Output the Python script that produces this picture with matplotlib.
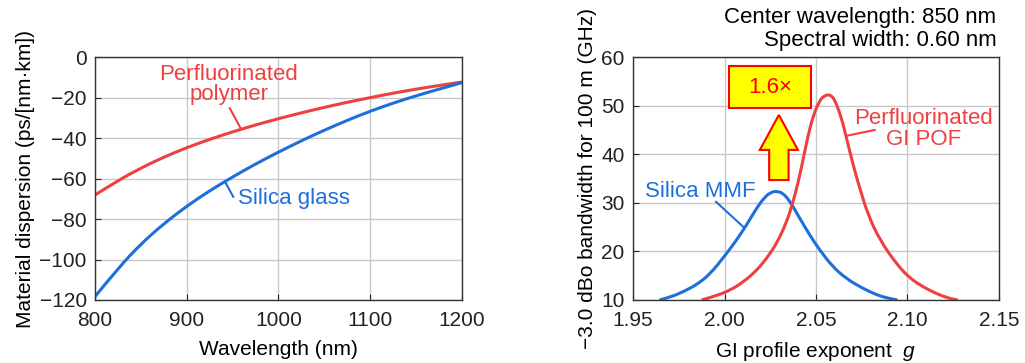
import matplotlib
matplotlib.use('Agg')
from matplotlib import pyplot as plt
from matplotlib.patches import Rectangle, Polygon, PathPatch
from matplotlib.path import Path

# 数据: 材料色散 (左图)
wavelength = [800, 825, 850, 875, 900, 925, 950, 975, 1000,
              1025, 1050, 1075, 1100, 1125, 1150, 1175, 1200]
disp_polymer = [-68.1, -61.0, -54.8, -49.4, -44.7, -40.6, -36.9, -33.5, -30.4,
                -27.5, -24.8, -22.3, -20.0, -17.8, -15.8, -14.0, -12.3]
disp_silica = [-118.3, -104.4, -92.3, -82.3, -73.6, -66.0, -59.2, -52.8, -46.9,
               -41.3, -36.1, -31.2, -26.7, -22.7, -19.1, -15.8, -12.6]

# 数据: 带宽 vs 折射率分布指数 (右图)
g_mmf = [1.9645, 1.9705, 1.9775, 1.985, 1.992, 2.000, 2.0065, 2.012, 2.0175, 2.022,
         2.0255, 2.0285, 2.032, 2.0358, 2.041, 2.0465, 2.052, 2.059, 2.0665, 2.0755,
         2.0835, 2.089, 2.0945]
bw_mmf = [10.0, 10.6, 11.7, 13.2, 15.3, 19.0, 22.3, 25.4, 28.9, 31.2,
          32.2, 32.4, 32.0, 30.3, 26.9, 23.4, 20.3, 16.9, 14.4, 12.4,
          11.0, 10.4, 10.0]
g_pof = [1.9875, 1.9958, 2.003, 2.0103, 2.0176, 2.0231, 2.0285, 2.034, 2.037, 2.040,
         2.043, 2.0455, 2.0485, 2.0521, 2.0545, 2.0567, 2.0585, 2.0603, 2.064, 2.0667,
         2.0703, 2.0739, 2.0785, 2.0848, 2.094, 2.1012, 2.1085, 2.1158, 2.123, 2.1275]
bw_pof = [10.0, 10.9, 12.0, 13.7, 16.1, 18.6, 21.6, 26.1, 29.6, 33.8,
          39.0, 43.6, 48.0, 51.2, 52.0, 52.3, 52.0, 51.2, 47.4, 43.3,
          37.8, 33.0, 27.5, 22.4, 17.4, 14.5, 12.7, 11.3, 10.3, 10.0]

RED = '#EE4040'
BLUE = '#1F6FDB'


# 用二次贝塞尔曲线把数据点连成平滑曲线
def smooth_line(ax, x, y, color, lw=2.2):
    pts = list(zip(x, y))
    verts = [pts[0]]
    codes = [Path.MOVETO]
    for i in range(1, len(pts) - 1):
        mid = ((pts[i][0] + pts[i + 1][0]) / 2, (pts[i][1] + pts[i + 1][1]) / 2)
        verts += [pts[i], mid]
        codes += [Path.CURVE3, Path.CURVE3]
    verts.append(pts[-1])
    codes.append(Path.LINETO)
    ax.add_patch(PathPatch(Path(verts, codes), fill=False, edgecolor=color,
                           lw=lw, capstyle='butt', joinstyle='round'))


plt.rcParams['font.family'] = ['Liberation Sans', 'DejaVu Sans']
plt.rcParams['mathtext.fontset'] = 'custom'
plt.rcParams['mathtext.it'] = 'Liberation Sans:italic'
plt.rcParams['mathtext.rm'] = 'Liberation Sans'

fig = plt.figure(figsize=(10.25, 3.63), dpi=100)
ax1 = fig.add_axes([0.0927, 0.1736, 0.358, 0.669])
ax2 = fig.add_axes([0.6176, 0.1736, 0.357, 0.669])

for ax in (ax1, ax2):
    ax.grid(True, color='#C8C8C8', lw=1)
    ax.set_axisbelow(True)
    ax.tick_params(direction='in', length=4, labelsize=15, colors='#222222')
    ax.tick_params(axis='x', pad=8)
    ax.tick_params(axis='y', pad=6)
    for s in ax.spines.values():
        s.set_color('#333333')
        s.set_linewidth(1)

# 左图
smooth_line(ax1, wavelength, disp_polymer, RED)
smooth_line(ax1, wavelength, disp_silica, BLUE)
ax1.set_xlim(800, 1200)
ax1.set_ylim(-120, 0)
ax1.set_xticks([800, 900, 1000, 1100, 1200])
ax1.set_yticks(range(-120, 1, 20))
ax1.set_xlabel('Wavelength (nm)', fontsize=15, labelpad=7)
ax1.set_ylabel('Material dispersion (ps/[nm·km])', fontsize=15, labelpad=3)
ax1.text(946, -13.5, 'Perfluorinated\npolymer', color=RED, fontsize=16,
         ha='center', va='center', linespacing=0.95)
ax1.plot([947, 958.8], [-25.3, -35.2], color=RED, lw=1.5)
ax1.text(955.5, -70.1, 'Silica glass', color=BLUE, fontsize=16, ha='left', va='center')
ax1.plot([950.7, 941.7], [-69, -61.6], color=BLUE, lw=1.5)

# 右图
smooth_line(ax2, g_mmf, bw_mmf, BLUE)
smooth_line(ax2, g_pof, bw_pof, RED)
ax2.set_xlim(1.95, 2.15)
ax2.set_ylim(10, 60)
ax2.set_xticks([1.95, 2.00, 2.05, 2.10, 2.15])
ax2.set_xticklabels(['1.95', '2.00', '2.05', '2.10', '2.15'])
ax2.set_yticks(range(10, 61, 10))
ax2.set_xlabel('GI profile exponent  $g$', fontsize=15, labelpad=7)
ax2.set_ylabel('\u22123.0 dBo bandwidth for 100 m (GHz)', fontsize=15, labelpad=3)

ax2.text(1.9567, 32.3, 'Silica MMF', color=BLUE, fontsize=16, ha='left', va='center')
ax2.plot([1.9954, 2.0107], [30.2, 24.9], color=BLUE, lw=1.5)
ax2.text(2.109, 45.2, 'Perfluorinated\nGI POF', color=RED, fontsize=16,
         ha='center', va='center', linespacing=0.95)
ax2.plot([2.0821, 2.0667], [45.0, 43.8], color=RED, lw=1.5)

# 1.6× 框和箭头
ax2.add_patch(Rectangle((2.0025, 49.6), 0.0449, 8.5, facecolor='#FFFF00',
                        edgecolor='#FF0000', lw=1.5, zorder=5))
ax2.text(2.0249, 53.8, '1.6×', color='#FF0000', fontsize=16,
         ha='center', va='center', zorder=6)
arrow = [(2.0297, 48.1), (2.0401, 40.9), (2.0350, 40.9), (2.0350, 34.7),
         (2.0244, 34.7), (2.0244, 40.9), (2.0193, 40.9)]
ax2.add_patch(Polygon(arrow, closed=True, facecolor='#FFFF00',
                      edgecolor='#FF0000', lw=1.5, zorder=5))

fig.text(0.972, 0.953, 'Center wavelength: 850 nm', fontsize=16, ha='right', va='center')
fig.text(0.972, 0.889, 'Spectral width: 0.60 nm', fontsize=16, ha='right', va='center')

plt.savefig('out.png', dpi=100)
